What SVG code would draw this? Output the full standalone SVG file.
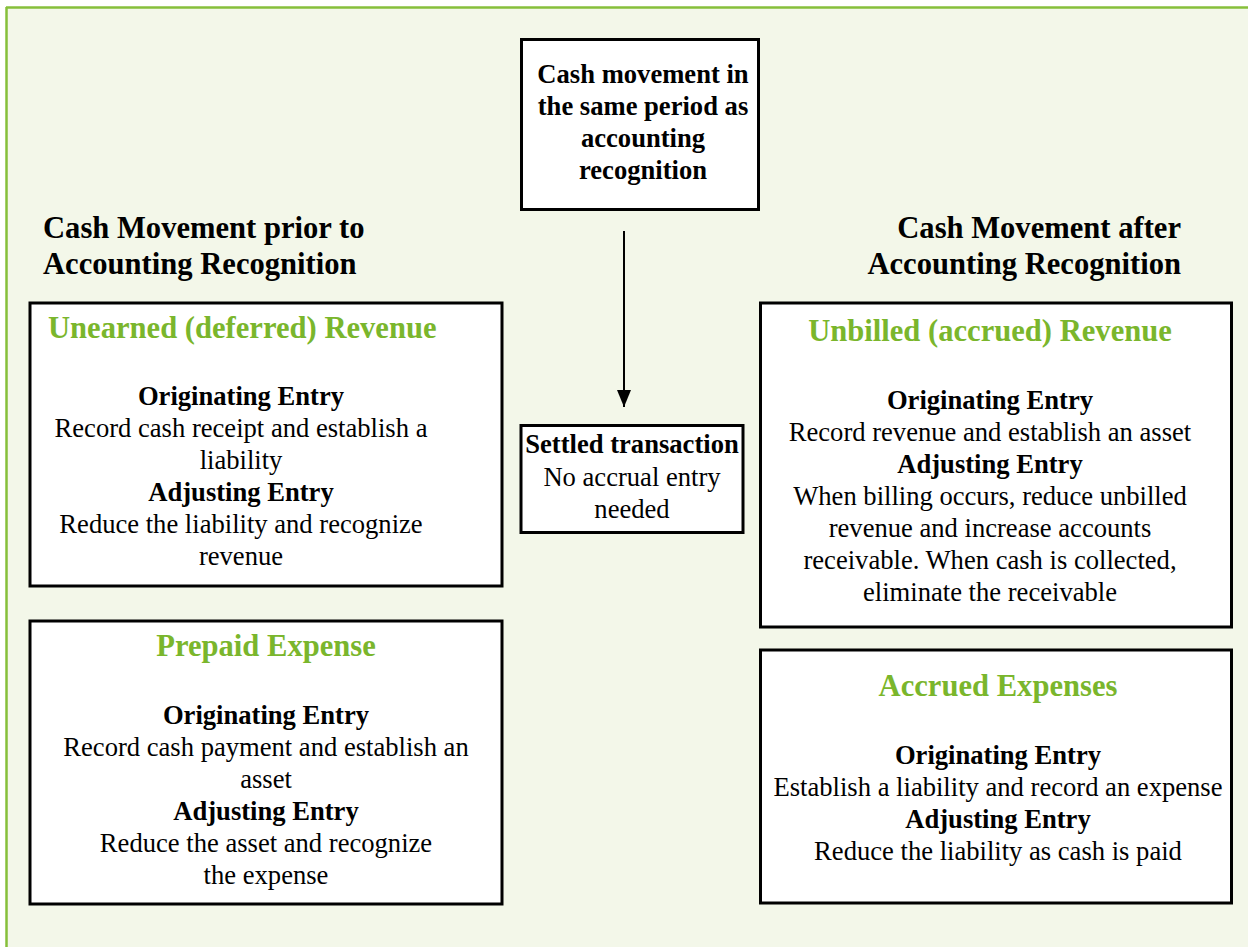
<svg xmlns="http://www.w3.org/2000/svg" width="1248" height="947" viewBox="0 0 1248 947">
<defs>
<style>
.box{fill:#ffffff;stroke:#000000;stroke-width:3}
.t{font-family:"Liberation Serif","Times New Roman",Times,serif;font-size:26.6px;fill:#000000;text-anchor:middle}
.b{font-weight:bold}
.h{font-family:"Liberation Serif","Times New Roman",Times,serif;font-size:30.6px;font-weight:bold;fill:#000000}
.g{font-family:"Liberation Serif","Times New Roman",Times,serif;font-size:30.6px;font-weight:bold;fill:#7ab62c}
</style>
<marker id="arr" viewBox="0 0 17 14" refX="17" refY="7" markerWidth="17" markerHeight="14" markerUnits="userSpaceOnUse" orient="auto">
<path d="M0,0 L17,7 L0,14 Z" fill="#000"/>
</marker>
</defs>
<rect x="0" y="0" width="1248" height="947" fill="#ffffff"/>
<rect x="6" y="7" width="1242" height="940" fill="#f3f7e9"/>
<line x1="6" y1="7.5" x2="1248" y2="7.5" stroke="#86bf3a" stroke-width="2.5"/>
<line x1="6.5" y1="7" x2="6.5" y2="947" stroke="#86bf3a" stroke-width="2.5"/>

<g id="heading-left">
<text class="h" x="43" y="238">Cash Movement prior to</text>
<text class="h" x="43" y="274">Accounting Recognition</text>
</g>
<g id="heading-right">
<text class="h" x="1181" y="238" text-anchor="end">Cash Movement after</text>
<text class="h" x="1181" y="274" text-anchor="end">Accounting Recognition</text>
</g>

<g id="connectors">
<line x1="624" y1="231" x2="624" y2="407" stroke="#000" stroke-width="2" marker-end="url(#arr)"/>
</g>

<g id="same-period">
<rect class="box" x="521.5" y="39.5" width="237" height="170"/>
<text class="t b" x="643" y="83">Cash movement in</text>
<text class="t b" x="643" y="115">the same period as</text>
<text class="t b" x="643" y="147">accounting</text>
<text class="t b" x="643" y="179">recognition</text>
</g>

<g id="settled">
<rect class="box" x="521" y="425.5" width="222" height="107"/>
<text class="t b" x="632" y="453">Settled transaction</text>
<text class="t" x="632" y="486">No accrual entry</text>
<text class="t" x="632" y="518">needed</text>
</g>

<g id="unearned">
<rect class="box" x="30" y="303" width="472" height="283"/>
<text class="g" x="48" y="338">Unearned (deferred) Revenue</text>
<text class="t b" x="241" y="405">Originating Entry</text>
<text class="t" x="241" y="437">Record cash receipt and establish a</text>
<text class="t" x="241" y="469">liability</text>
<text class="t b" x="241" y="501">Adjusting Entry</text>
<text class="t" x="241" y="533">Reduce the liability and recognize</text>
<text class="t" x="241" y="565">revenue</text>
</g>

<g id="prepaid">
<rect class="box" x="30" y="621" width="472" height="283"/>
<text class="g" x="266" y="656" text-anchor="middle">Prepaid Expense</text>
<text class="t b" x="266" y="724">Originating Entry</text>
<text class="t" x="266" y="756">Record cash payment and establish an</text>
<text class="t" x="266" y="788">asset</text>
<text class="t b" x="266" y="820">Adjusting Entry</text>
<text class="t" x="266" y="852">Reduce the asset and recognize</text>
<text class="t" x="266" y="884">the expense</text>
</g>

<g id="unbilled">
<rect class="box" x="760.5" y="303" width="471" height="324"/>
<text class="g" x="990" y="341" text-anchor="middle">Unbilled (accrued) Revenue</text>
<text class="t b" x="990" y="409">Originating Entry</text>
<text class="t" x="990" y="441">Record revenue and establish an asset</text>
<text class="t b" x="990" y="473">Adjusting Entry</text>
<text class="t" x="990" y="505">When billing occurs, reduce unbilled</text>
<text class="t" x="990" y="537">revenue and increase accounts</text>
<text class="t" x="990" y="569">receivable. When cash is collected,</text>
<text class="t" x="990" y="601">eliminate the receivable</text>
</g>

<g id="accrued">
<rect class="box" x="760.5" y="650" width="471" height="253"/>
<text class="g" x="998" y="696" text-anchor="middle">Accrued Expenses</text>
<text class="t b" x="998" y="764">Originating Entry</text>
<text class="t" x="998" y="796">Establish a liability and record an expense</text>
<text class="t b" x="998" y="828">Adjusting Entry</text>
<text class="t" x="998" y="860">Reduce the liability as cash is paid</text>
</g>
</svg>
